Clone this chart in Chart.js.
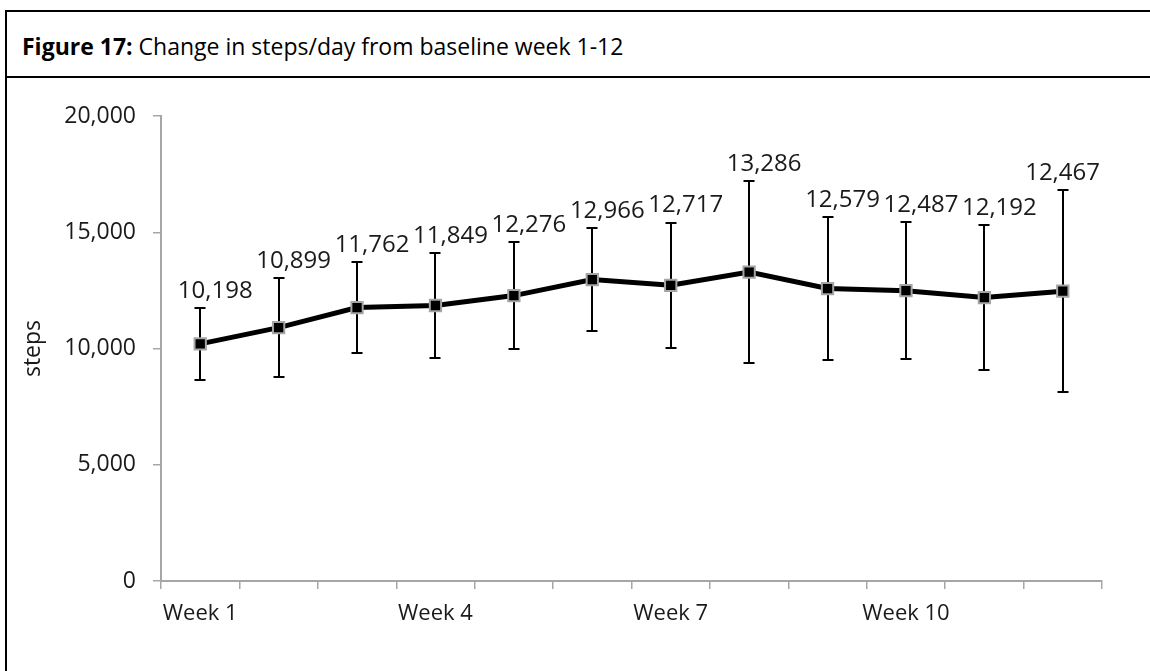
<!DOCTYPE html>
<html>
<head>
<meta charset="utf-8">
<script src="https://cdn.jsdelivr.net/npm/chart.js@4.4.1/dist/chart.umd.min.js"></script>
<style>
  html, body { margin: 0; padding: 0; background: #fff; }
  body { width: 1150px; height: 671px; position: relative; overflow: hidden; font-family: "Open Sans", sans-serif; }
  #frame { position: absolute; left: 5px; top: 10px; right: -4px; bottom: -4px; border-left: 2px solid #000; border-top: 2px solid #000; }
  #sep { position: absolute; left: 5px; right: 0; top: 76px; height: 2px; background: #000; }
  #caption { position: absolute; left: 22px; top: 35px; font-size: 23px; line-height: 23px; color: #000; white-space: nowrap; }
  #chart { position: absolute; left: 0; top: 0; }
</style>
</head>
<body>
<div id="frame"></div>
<div id="sep"></div>
<div id="caption"><b>Figure 17:</b> Change in steps/day from baseline week 1-12</div>
<canvas id="chart" width="1150" height="671"></canvas>
<script>
// Weekly mean steps/day with ± standard deviation
const weeks = ['Week 1', 'Week 2', 'Week 3', 'Week 4', 'Week 5', 'Week 6',
               'Week 7', 'Week 8', 'Week 9', 'Week 10', 'Week 11', 'Week 12'];
const meanSteps = [10198, 10899, 11762, 11849, 12276, 12966, 12717, 13286, 12579, 12487, 12192, 12467];
const sdSteps   = [1540, 2140, 1960, 2260, 2310, 2230, 2700, 3930, 3060, 2945, 3120, 4345];
const yTicks    = [0, 5000, 10000, 15000, 20000];

const fmt = v => v.toLocaleString('en-US');
const axisGrey = '#a6a6a6';
const textColor = '#1a1a1a';

// Error bars under the line, value labels above each bar
const errorBarPlugin = {
  id: 'errorBars',
  beforeDatasetsDraw(chart, args, opts) {
    const { ctx, scales: { y } } = chart;
    const meta = chart.getDatasetMeta(0);
    ctx.save();
    ctx.strokeStyle = opts.color;
    ctx.lineWidth = opts.lineWidth;
    meta.data.forEach((pt, i) => {
      const x = Math.round(pt.x);
      const yTop = Math.round(y.getPixelForValue(meanSteps[i] + sdSteps[i]));
      const yBot = Math.round(y.getPixelForValue(meanSteps[i] - sdSteps[i]));
      const half = opts.capWidth / 2;
      ctx.beginPath();
      ctx.moveTo(x, yTop); ctx.lineTo(x, yBot);
      ctx.moveTo(x - half, yTop); ctx.lineTo(x + half, yTop);
      ctx.moveTo(x - half, yBot); ctx.lineTo(x + half, yBot);
      ctx.stroke();
    });
    ctx.restore();
  },
  afterDatasetsDraw(chart, args, opts) {
    const { ctx, chartArea, scales: { y } } = chart;
    const meta = chart.getDatasetMeta(0);
    ctx.save();
    ctx.font = opts.font;
    ctx.fillStyle = opts.textColor;
    ctx.textAlign = 'center';
    ctx.textBaseline = 'middle';
    meta.data.forEach((pt, i) => {
      const text = fmt(meanSteps[i]);
      const w = ctx.measureText(text).width;
      let cx = pt.x + opts.labelShift;
      if (cx + w / 2 > chartArea.right - 2) cx = chartArea.right - 2 - w / 2;
      const yTop = y.getPixelForValue(meanSteps[i] + sdSteps[i]);
      ctx.fillText(text, cx, yTop - opts.labelGap);
    });
    ctx.restore();
  }
};

new Chart(document.getElementById('chart'), {
  type: 'line',
  data: {
    labels: weeks,
    datasets: [{
      data: meanSteps,
      borderColor: '#000',
      borderWidth: 5,
      pointStyle: 'rect',
      pointRadius: 8,
      pointBackgroundColor: '#000',
      pointBorderColor: '#a6a6a6',
      pointBorderWidth: 2,
      tension: 0,
      fill: false
    }]
  },
  options: {
    responsive: false,
    animation: false,
    devicePixelRatio: 1,
    layout: { padding: { top: 116, right: 48, bottom: 40, left: 0 } },
    plugins: {
      legend: { display: false },
      tooltip: { enabled: false },
      errorBars: {
        color: '#000', lineWidth: 2, capWidth: 11,
        font: '24px "Open Sans"', textColor: textColor,
        labelShift: 15, labelGap: 17
      }
    },
    scales: {
      x: {
        offset: true,
        grid: { display: true, drawOnChartArea: false, offset: true, tickLength: 8, color: axisGrey, lineWidth: 1.5 },
        border: { display: true, color: axisGrey, width: 2 },
        ticks: {
          autoSkip: false, maxRotation: 0, padding: 12,
          color: textColor,
          font: { family: 'Open Sans', size: 22 },
          callback: (v, i) => (i % 3 === 0 ? weeks[i] : '')
        },
        afterFit: s => { s.height = 50; }
      },
      y: {
        min: 0, max: 20000,
        afterBuildTicks: s => { s.ticks = yTicks.map(v => ({ value: v })); },
        grid: { display: true, drawOnChartArea: false, tickLength: 8, color: axisGrey, lineWidth: 1.5 },
        border: { display: true, color: axisGrey, width: 2 },
        ticks: {
          padding: 17, color: textColor,
          font: { family: 'Open Sans', size: 23 },
          callback: v => fmt(v)
        },
        title: {
          display: true, text: 'steps', color: textColor,
          font: { family: 'Open Sans', size: 23 },
          padding: { top: 20, bottom: 0 }
        },
        afterFit: s => { s.width = 161; }
      }
    }
  },
  plugins: [errorBarPlugin]
});
</script>
</body>
</html>
